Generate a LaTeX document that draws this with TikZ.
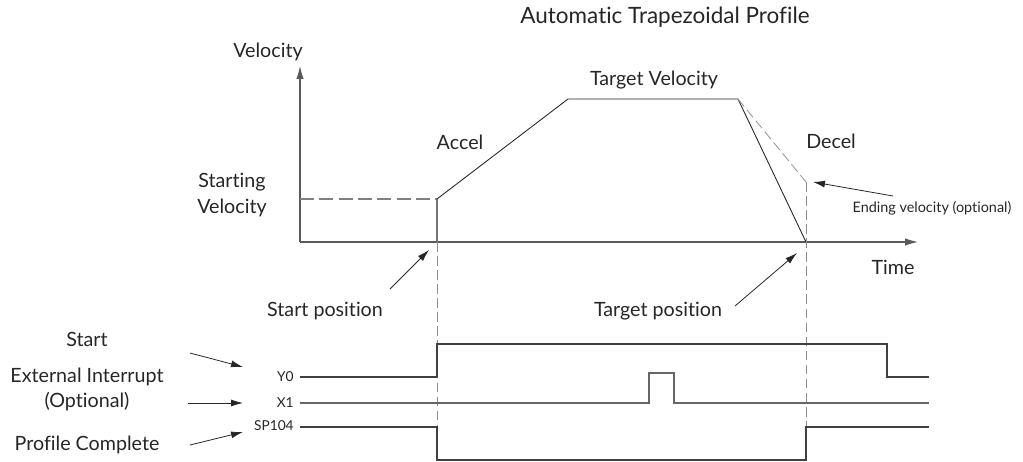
\documentclass[tikz,border=0pt]{standalone}
\usepackage{fontspec}
\setmainfont{Lato}[Ligatures=NoCommon]
\usetikzlibrary{
  arrows.meta,
  positioning
}

\begin{document}
\begin{tikzpicture}[
  x=0.02cm, y=-0.02cm,
  font=\fontsize{11.2}{14.5}\selectfont,
  lbl/.style={align=center, text=black!85, inner sep=0pt},
  sig/.style={font=\fontsize{7.8}{9}\selectfont, text=black!85, anchor=east, inner sep=0pt},
  axis/.style={-{Latex[length=2.6mm,width=1.5mm]}, black!65, line width=0.7pt},
  profile/.style={black!85, line width=0.5pt},
  startdash/.style={dash pattern=on 8pt off 3pt, black!50, line width=0.8pt},
  guide/.style={dash pattern=on 5.5pt off 2.5pt, black!45, line width=0.5pt},
  wave/.style={black!75, line width=0.6pt},
  pointer/.style={-{Latex[length=2.4mm,width=1.4mm]}, black!85, line width=0.45pt},
]
\useasboundingbox (0,0) rectangle (1023,462);

% Axes
\coordinate (orig) at (300,242);
\coordinate (vtop) at (300,66);
\coordinate (tend) at (918,242);
\draw[axis] (orig) -- (vtop);
\draw[axis] (orig) -- (tend);

% Trapezoidal profile
\coordinate (sv0)  at (300,199);
\coordinate (svel) at (437,199);
\coordinate (spos) at (437,242);
\coordinate (acc)  at (568,99);
\coordinate (dec)  at (738,99);
\coordinate (tpos) at (806,242);
\coordinate (evel) at (806,182);
\draw[startdash] (sv0) -- (svel);
\draw[black!55, line width=0.6pt] (svel) -- (spos);
\draw[profile] (svel) -- (acc) -- (dec) -- (tpos);
\draw[guide, black!40] (dec) -- (evel);

% Guide lines down to the signals
\draw[guide] (spos) -- (437,460);
\draw[guide] (evel) -- (806,460);

% Profile labels
\node[lbl, font=\fontsize{12.8}{15}\selectfont] (title) at (665,17) {Automatic Trapezoidal Profile};
\node[lbl] (vel)   at (268,52)  {Velocity};
\node[lbl] (stv)   at (232,195) {Starting\\Velocity};
\node[lbl] (accel) at (460,142) {Accel};
\node[lbl] (tvel)  at (654,80)  {Target Velocity};
\node[lbl] (decel) at (831,141) {Decel};
\node[lbl] (time)  at (893,267) {Time};
\node[lbl, font=\fontsize{8.2}{9}\selectfont] (endv) at (932,208) {Ending velocity (optional)};
\node[lbl] (startpos) at (325,311) {Start position};
\node[lbl] (targpos)  at (658,311) {Target position};

% Pointers to the profile
\coordinate (endtail) at (893,196);
\coordinate (endtip)  at (813,182);
\coordinate (sptail)  at (390,289);
\coordinate (sptip)   at (429,250);
\coordinate (tptail)  at (735,306);
\coordinate (tptip)   at (797,253);
\draw[pointer] (endtail) -- (endtip);
\draw[pointer] (sptail) -- (sptip);
\draw[pointer] (tptail) -- (tptip);

% Signals
\node[sig] (y0)    at (294,377) {Y0};
\node[sig] (x1)    at (294,403) {X1};
\node[sig] (sp104) at (294,426) {SP104};
\draw[wave] (300,377) -| (437,344) -| (887,377) -- (929,377);
\draw[wave, black!60] (300,403) -- (649,403) |- (674,373) |- (929,403);
\draw[wave] (300,427) -| (437,460) -| (806,427) -- (929,427);

% Signal descriptions
\node[lbl] (start)  at (87,339) {Start};
\node[lbl] (extint) at (87,389.5) {External Interrupt\\(Optional)};
\node[lbl] (profc)  at (87,445) {Profile Complete};
\coordinate (sttail) at (190,353);
\coordinate (sttip)  at (243,367);
\coordinate (extail) at (188,403);
\coordinate (extip)  at (243,403);
\coordinate (pctail) at (190,445);
\coordinate (pctip)  at (243,432);
\draw[pointer] (sttail) -- (sttip);
\draw[pointer] (extail) -- (extip);
\draw[pointer] (pctail) -- (pctip);

\end{tikzpicture}
\end{document}
